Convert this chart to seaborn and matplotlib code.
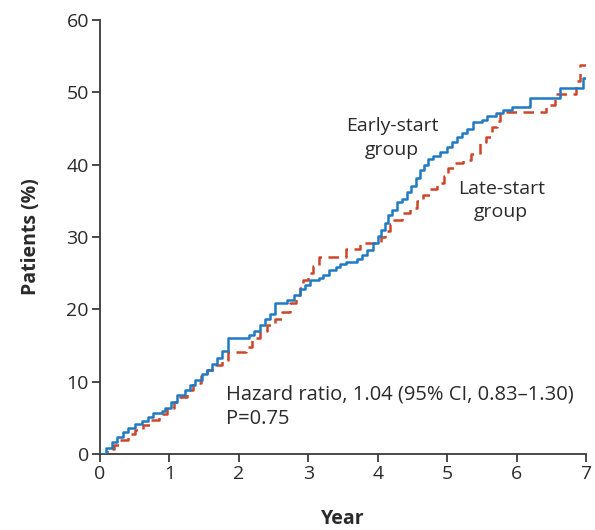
import numpy as np
import pandas as pd
import matplotlib
matplotlib.use("Agg")
import matplotlib.pyplot as plt
import seaborn as sns

# ---- data ----
early_years = [0.00, 0.08, 0.17, 0.25, 0.33, 0.40, 0.50, 0.60, 0.69, 0.76, 0.90, 0.94,
               1.02, 1.11, 1.22, 1.30, 1.37, 1.47, 1.54, 1.62, 1.69, 1.76, 1.85, 2.15,
               2.22, 2.31, 2.38, 2.45, 2.52, 2.70, 2.80, 2.88, 2.95, 3.03, 3.15, 3.21,
               3.30, 3.40, 3.46, 3.55, 3.70, 3.78, 3.85, 3.93, 4.00, 4.05, 4.10, 4.15,
               4.20, 4.28, 4.35, 4.42, 4.48, 4.55, 4.61, 4.67, 4.73, 4.80, 4.90, 5.00,
               5.07, 5.14, 5.22, 5.29, 5.37, 5.50, 5.58, 5.70, 5.80, 5.94, 6.20, 6.63,
               6.96, 7.00]
early_pct = [0.0, 0.8, 1.6, 2.3, 3.0, 3.6, 4.1, 4.6, 5.1, 5.6, 5.9, 6.4,
             7.2, 8.2, 8.8, 9.6, 10.2, 11.0, 11.6, 12.4, 13.3, 14.2, 16.0, 16.4,
             17.0, 17.8, 18.6, 19.4, 20.9, 21.3, 22.0, 22.8, 23.4, 24.0, 24.3, 24.8,
             25.4, 25.9, 26.3, 26.6, 27.0, 27.5, 28.2, 29.2, 30.2, 31.0, 32.0, 33.0,
             33.8, 34.8, 35.3, 36.2, 37.0, 38.2, 39.3, 40.0, 40.8, 41.2, 41.8, 42.5,
             43.2, 43.8, 44.4, 45.0, 45.9, 46.2, 46.7, 47.1, 47.5, 48.0, 49.2, 50.6,
             52.0, 52.0]

late_years = [0.00, 0.10, 0.20, 0.29, 0.40, 0.50, 0.62, 0.72, 0.85, 0.97, 1.06, 1.15,
              1.25, 1.34, 1.45, 1.54, 1.65, 1.76, 1.85, 2.10, 2.19, 2.30, 2.41, 2.52,
              2.62, 2.74, 2.82, 2.88, 2.93, 3.00, 3.07, 3.15, 3.55, 3.75, 4.05, 4.10,
              4.18, 4.22, 4.35, 4.47, 4.56, 4.65, 4.76, 4.86, 4.95, 5.01, 5.12, 5.23,
              5.35, 5.47, 5.56, 5.64, 5.72, 5.76, 6.43, 6.55, 6.85, 6.92, 7.00]
late_pct = [0.0, 0.7, 1.3, 1.9, 2.7, 3.3, 4.0, 4.7, 5.5, 6.4, 7.2, 7.9,
            8.8, 9.8, 10.8, 11.6, 12.3, 13.0, 14.1, 14.8, 16.0, 17.0, 17.8, 18.7,
            19.6, 20.9, 22.0, 23.0, 24.0, 25.0, 26.0, 27.2, 28.4, 29.2, 30.0, 30.8,
            31.8, 32.3, 33.3, 34.0, 35.0, 35.8, 36.7, 37.5, 38.5, 39.5, 40.2, 40.7,
            41.5, 43.2, 43.8, 45.2, 46.0, 47.3, 48.3, 49.8, 51.5, 53.8, 53.8]

groups = ["Early-start group", "Late-start group"]
x_ticks = [0, 1, 2, 3, 4, 5, 6, 7]
y_ticks = [0, 10, 20, 30, 40, 50, 60]

df = pd.concat([
    pd.DataFrame({"Year": early_years, "Patients": early_pct, "group": groups[0]}),
    pd.DataFrame({"Year": late_years, "Patients": late_pct, "group": groups[1]}),
], ignore_index=True)

sns.set_style("ticks")
plt.rcParams["font.family"] = ["Open Sans", "DejaVu Sans"]

fig = plt.figure(figsize=(5.95, 5.30), dpi=100)
ax = fig.add_axes([100 / 595, 76 / 530, 486 / 595, 434 / 530])

blue = "#1f7ac3"
red = "#cc4629"
sns.lineplot(data=df, x="Year", y="Patients", hue="group", style="group",
             palette={groups[0]: blue, groups[1]: red},
             dashes={groups[0]: "", groups[1]: (4.2, 2.6)},
             estimator=None, sort=False, drawstyle="steps-post",
             linewidth=1.8, legend=False, ax=ax)
# draw blue on top
for ln in ax.lines:
    if matplotlib.colors.to_hex(ln.get_color()) == blue:
        ln.set_zorder(3)

ax.set_xlim(0, 7)
ax.set_ylim(0, 60)
ax.set_xticks(x_ticks)
ax.set_yticks(y_ticks)
ax.set_xticklabels([str(v) for v in x_ticks])
ax.set_yticklabels([str(v) for v in y_ticks])

for s in ["top", "right"]:
    ax.spines[s].set_visible(False)
for s in ["left", "bottom"]:
    ax.spines[s].set_color("#3a3a3a")
    ax.spines[s].set_linewidth(1.3)
ax.tick_params(axis="both", direction="out", length=6, width=1.3,
               color="#3a3a3a", labelsize=14, labelcolor="#2a2a2a", pad=2)

ax.set_xlabel("Year", fontsize=14, fontweight="bold", color="#2a2a2a", labelpad=19)
ax.set_ylabel("Patients (%)", fontsize=14, fontweight="bold", color="#2a2a2a", labelpad=18)

ax.text(4.21, 43.7, "Early-start\ngroup", ha="center", va="center",
        fontsize=14, color="#2a2a2a", linespacing=1.38)
ax.text(5.78, 35.0, "Late-start\ngroup", ha="center", va="center",
        fontsize=14, color="#2a2a2a", linespacing=1.38)
ax.text(1.815, 6.5, "Hazard ratio, 1.04 (95% CI, 0.83\u20131.30)\nP=0.75",
        ha="left", va="center", fontsize=14.5, color="#2a2a2a", linespacing=1.3)

fig.savefig("out.png", dpi=100)
